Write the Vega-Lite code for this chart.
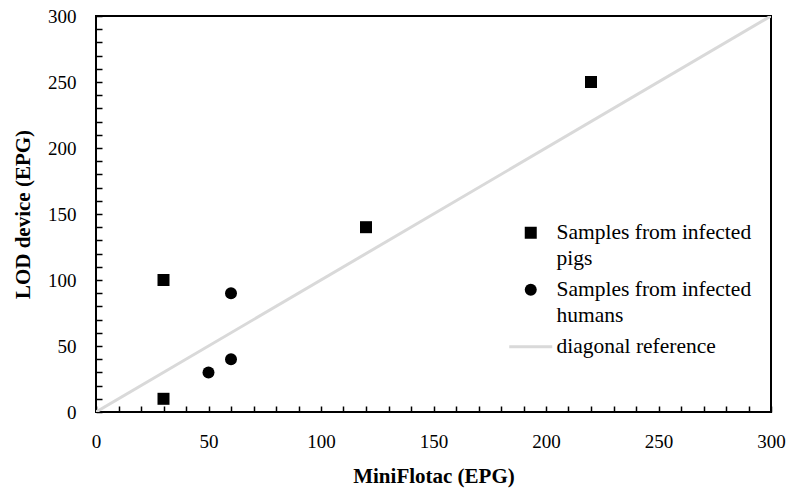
{
  "$schema": "https://vega.github.io/schema/vega-lite/v6.json",
  "autosize": {"type": "none"},
  "padding": {"left": 96, "top": 16, "right": 28, "bottom": 83},
  "width": 675,
  "height": 396,
  "background": "white",
  "config": {
    "view": {"stroke": "black", "strokeWidth": 2},
    "font": "Liberation Serif"
  },
  "data": {
    "values": [
      {"x": 0, "y": 0, "series": "diag"},
      {"x": 300, "y": 300, "series": "diag"},
      {"x": 30, "y": 10, "series": "pigs"},
      {"x": 30, "y": 100, "series": "pigs"},
      {"x": 120, "y": 140, "series": "pigs"},
      {"x": 220, "y": 250, "series": "pigs"},
      {"x": 50, "y": 30, "series": "humans"},
      {"x": 60, "y": 40, "series": "humans"},
      {"x": 60, "y": 90, "series": "humans"}
    ]
  },
  "encoding": {
    "x": {
      "field": "x", "type": "quantitative",
      "scale": {"domain": [0, 300], "nice": false},
      "axis": {
        "title": "MiniFlotac (EPG)",
        "titleFont": "Liberation Serif", "titleFontSize": 21, "titleFontWeight": "bold", "titleColor": "black",
        "titlePadding": 14,
        "offset": -6,
        "values": [0,10,20,30,40,50,60,70,80,90,100,110,120,130,140,150,160,170,180,190,200,210,220,230,240,250,260,270,280,290,300],
        "labelExpr": "datum.value % 50 == 0 ? datum.label : ''",
        "labelFont": "Liberation Serif", "labelFontSize": 19, "labelColor": "black",
        "labelPadding": 20, "labelFlush": false, "labelOverlap": false,
        "tickSize": 6, "tickColor": "black", "tickWidth": 1.5,
        "domain": false, "grid": false
      }
    },
    "y": {
      "field": "y", "type": "quantitative",
      "scale": {"domain": [0, 300], "nice": false},
      "axis": {
        "title": "LOD device (EPG)",
        "titleFont": "Liberation Serif", "titleFontSize": 21, "titleFontWeight": "bold", "titleColor": "black",
        "titlePadding": 14,
        "offset": -6,
        "values": [0,10,20,30,40,50,60,70,80,90,100,110,120,130,140,150,160,170,180,190,200,210,220,230,240,250,260,270,280,290,300],
        "labelExpr": "datum.value % 50 == 0 ? datum.label : ''",
        "labelFont": "Liberation Serif", "labelFontSize": 19, "labelColor": "black",
        "labelPadding": 20, "labelFlush": false, "labelOverlap": false,
        "tickSize": 6, "tickColor": "black", "tickWidth": 1.5,
        "domain": false, "grid": false
      }
    }
  },
  "layer": [
    {
      "transform": [{"filter": "datum.series == 'diag'"}],
      "mark": {"type": "line", "strokeWidth": 3, "clip": true},
      "encoding": {
        "color": {
          "field": "series", "type": "nominal",
          "scale": {"domain": ["pigs", "humans", "diag"], "range": ["black", "black", "#d9d9d9"]},
          "legend": {
            "orient": "none", "legendX": 424, "legendY": 206,
            "title": null,
            "symbolSize": 1849,
            "labelFont": "Liberation Serif", "labelFontSize": 21.5, "labelColor": "black",
            "labelOffset": 15, "labelLimit": 400,
            "labelExpr": "datum.value == 'pigs' ? ['Samples from infected', 'pigs'] : datum.value == 'humans' ? ['Samples from infected', 'humans'] : 'diagonal reference'",
            "rowPadding": 8,
            "encode": {
              "symbols": {
                "update": {
                  "shape": {"signal": "datum.value == 'diag' ? 'stroke' : datum.value == 'pigs' ? 'square' : 'circle'"},
                  "size": {"signal": "datum.value == 'diag' ? 1849 : 144"},
                  "fill": {"signal": "datum.value == 'diag' ? 'transparent' : 'black'"},
                  "stroke": {"signal": "datum.value == 'diag' ? '#d9d9d9' : 'black'"},
                  "strokeWidth": {"signal": "datum.value == 'diag' ? 3 : 0"},
                  "opacity": {"value": 1}
                }
              },
              "labels": {
                "update": {
                  "lineHeight": {"value": 26}
                }
              }
            }
          }
        }
      }
    },
    {
      "transform": [{"filter": "datum.series != 'diag'"}],
      "mark": {"type": "point", "filled": true, "size": 144, "opacity": 1},
      "encoding": {
        "shape": {
          "field": "series", "type": "nominal",
          "scale": {"domain": ["pigs", "humans"], "range": ["square", "circle"]},
          "legend": null
        },
        "color": {"field": "series", "type": "nominal"}
      }
    }
  ]
}
